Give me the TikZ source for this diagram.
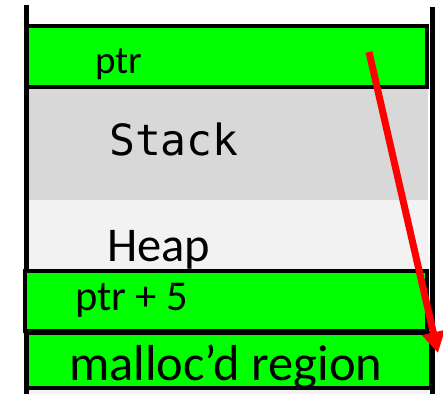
\documentclass[tikz,border=0pt]{standalone}
\usepackage{fontspec}
\setmainfont{Carlito}
\newfontfamily\codefont{DejaVu Sans Mono}
\usetikzlibrary{arrows.meta}
\definecolor{cellgreen}{HTML}{00FF00}
\definecolor{stackgray}{HTML}{D8D8D8}
\definecolor{heapgray}{HTML}{F2F2F2}
\definecolor{ptrred}{HTML}{FF0000}
\tikzset{
  region/.style={draw=none, inner sep=0pt, outer sep=0pt},
  cell/.style={draw=black, line width=4pt, fill=cellgreen, inner sep=0pt, outer sep=0pt},
  label/.style={anchor=base west, inner sep=0pt, text=black},
  wall/.style={line width=5pt, draw=black},
  pointer/.style={draw=ptrred, line width=7pt, -{Triangle[width=22pt,length=21pt]}}
}
\begin{document}
\begin{tikzpicture}[x=1pt, y=-1pt]
  \useasboundingbox (0,0) rectangle (443,394);
  % memory segments
  \fill[stackgray] (28,88) rectangle (428,200);
  \fill[heapgray] (28,200) rectangle (428,394);
  % side walls of the address space
  \coordinate (lt) at (26,5);
  \coordinate (lb) at (26,394);
  \coordinate (rt) at (432.5,7);
  \coordinate (rb) at (432.5,394);
  \draw[wall] (lt) -- (lb);
  \draw[wall] (rt) -- (rb);
  % highlighted cells
  \draw[cell] (27,26) rectangle (427,87);
  \draw[cell] (24.5,271) rectangle (427,331);
  \draw[cell] (26.5,333) rectangle (431,387.5);
  % labels
  \node[label, font=\fontsize{39}{41}\selectfont] (ptr) at (95,73) {ptr};
  \node[label, font=\codefont\fontsize{43}{45}\selectfont] (stack) at (109,155) {Stack};
  \node[label, font=\fontsize{48.5}{50}\selectfont] (heap) at (107,261) {Heap};
  \node[label, font=\fontsize{42.5}{44}\selectfont] (ptr5) at (75,310) {ptr + 5};
  \node[label, font=\fontsize{50.5}{52}\selectfont] (malloc) at (69,380) {malloc’d region};
  % pointer arithmetic arrow
  \coordinate (from) at (369,52);
  \coordinate (to) at (438,353);
  \draw[pointer] (from) -- (to);
\end{tikzpicture}
\end{document}
